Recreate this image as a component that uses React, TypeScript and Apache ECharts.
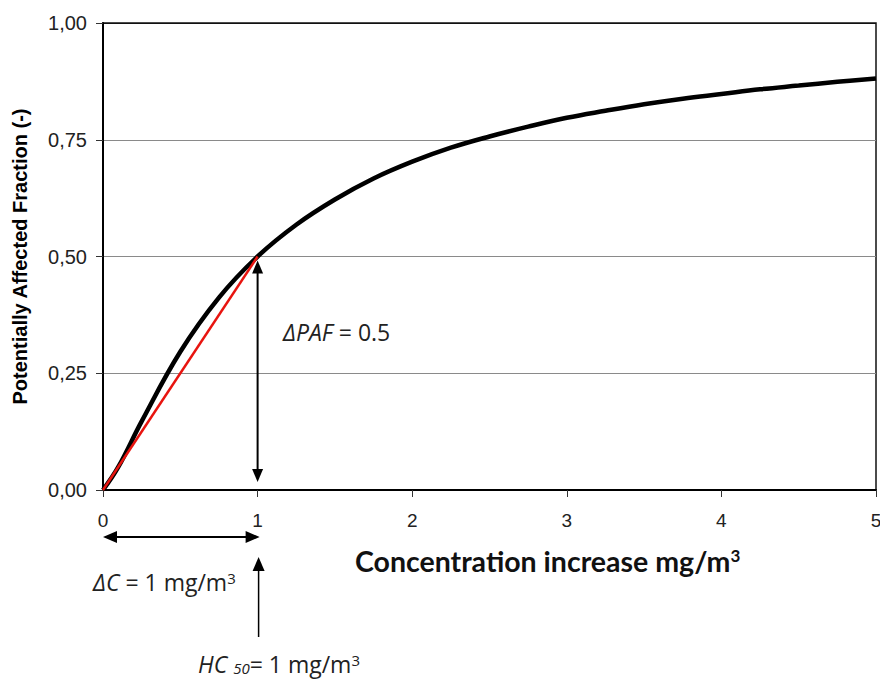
import React, { useEffect, useRef } from "react";
import * as echarts from "echarts";

const X_VALUES = [0, 0.1, 0.25, 0.5, 0.75, 1, 1.25, 1.5, 1.75, 2, 2.25, 2.5, 2.75, 3, 3.25, 3.5, 3.75, 4, 4.25, 4.5, 4.75, 5];
const PAF_VALUES = [0, 0.05, 0.147, 0.296, 0.412, 0.5, 0.568, 0.622, 0.667, 0.703, 0.733, 0.757, 0.778, 0.797, 0.812, 0.826, 0.838, 0.848, 0.858, 0.866, 0.874, 0.881];
const RED_X = [0, 1];
const RED_Y = [0, 0.5];
const Y_TICKS = ["0,00", "0,25", "0,50", "0,75", "1,00"];
const X_TITLE = "Concentration increase mg/m";
const Y_TITLE = "Potentially Affected Fraction (-)";

const CAL = "'Open Sans', Lato, sans-serif";
const TITLE_FONT = "Lato, 'Open Sans', sans-serif";
const ARIAL = "'Liberation Sans', Arial, sans-serif";

export default function App() {
  const ref = useRef<HTMLDivElement>(null);
  useEffect(() => {
    const chart = echarts.init(ref.current!, null, { renderer: "svg" });
    chart.setOption({
      animation: false,
      backgroundColor: "#fff",
      grid: {
        left: 103,
        right: 4,
        top: 23,
        bottom: 192,
        outerBoundsMode: "none",
        containLabel: false,
        show: true,
        borderColor: "#111",
        borderWidth: 1.5,
        backgroundColor: "transparent",
      },
      xAxis: {
        type: "value",
        min: 0,
        max: 5,
        interval: 1,
        axisLine: { lineStyle: { color: "#000", width: 2 } },
        axisTick: { show: true, length: 7, lineStyle: { color: "#333" } },
        splitLine: { show: false },
        axisLabel: { margin: 21, fontSize: 19, fontFamily: ARIAL, color: "#222" },
      },
      yAxis: {
        type: "value",
        min: 0,
        max: 1,
        interval: 0.25,
        name: Y_TITLE,
        nameLocation: "middle",
        nameGap: 73,
        nameTextStyle: { fontSize: 20, fontWeight: "bold", fontFamily: ARIAL, color: "#000" },
        axisLine: { show: true, lineStyle: { color: "#000", width: 2 } },
        axisTick: { show: true, length: 7, lineStyle: { color: "#333" } },
        splitLine: { show: true, lineStyle: { color: ["#000", "#8a8a8a", "#8a8a8a", "#8a8a8a", "#111"], width: 1.2 } },
        axisLabel: {
          margin: 16,
          fontSize: 20,
          fontFamily: ARIAL,
          color: "#222",
          formatter: (v: number) => Y_TICKS[Math.round(v / 0.25)] ?? "",
        },
      },
      series: [
        {
          type: "line",
          data: X_VALUES.map((x, i) => [x, PAF_VALUES[i]]),
          smooth: 0.4,
          showSymbol: false,
          lineStyle: { color: "#000", width: 4.5 },
          z: 2,
        },
        {
          type: "line",
          data: RED_X.map((x, i) => [x, RED_Y[i]]),
          showSymbol: false,
          lineStyle: { color: "#e8140f", width: 2.5 },
          z: 3,
        },
      ],
    });

    const px = (x: number, y: number) => chart.convertToPixel({ gridIndex: 0 }, [x, y]) as number[];
    const p0 = px(0, 0);
    const p1 = px(1, 0.5);
    const p10 = px(1, 0);
    const x0 = p0[0];
    const x1 = p1[0];
    const head = (tx: number, ty: number, dir: string, len = 13, hw = 5.5) => {
      let pts: number[][];
      if (dir === "left") pts = [[tx, ty], [tx + len, ty - hw], [tx + len, ty + hw]];
      else if (dir === "right") pts = [[tx, ty], [tx - len, ty - hw], [tx - len, ty + hw]];
      else if (dir === "up") pts = [[tx, ty], [tx - hw, ty + len], [tx + hw, ty + len]];
      else pts = [[tx, ty], [tx - hw, ty - len], [tx + hw, ty - len]];
      return { type: "polygon", shape: { points: pts }, style: { fill: "#000" }, z: 10 };
    };
    const line = (a: number, b: number, c: number, d: number, w = 2) => ({
      type: "line",
      shape: { x1: a, y1: b, x2: c, y2: d },
      style: { stroke: "#000", lineWidth: w },
      z: 10,
    });
    const hy = 537;
    const vTop = p1[1] + 4;
    const vBot = p10[1] - 8;
    const FS = 23;
    const SS = 15;
    chart.setOption({
      graphic: [
        line(x1, vTop + 10, x1, vBot - 10, 2),
        head(x1, vTop, "up", 13, 5.5),
        head(x1, vBot, "down", 13, 5.5),
        line(x0 + 10, hy, x1 - 10, hy, 2),
        head(x0, hy, "left", 14, 6),
        head(x1 + 2, hy, "right", 14, 6),
        line(x1 + 1, 568, x1 + 1, 637, 1.5),
        head(x1 + 1, 557, "up", 14, 6),
        {
          type: "text",
          x: 283,
          y: 332,
          z: 10,
          style: {
            text: "{i|ΔPAF} = 0.5",
            fontSize: FS,
            fontFamily: CAL,
            fill: "#222",
            verticalAlign: "middle",
            rich: { i: { fontStyle: "italic", fontSize: FS, fontFamily: CAL, fill: "#222" } },
          },
        },
        {
          type: "text",
          x: 93,
          y: 582,
          z: 10,
          style: {
            text: "{i|ΔC} = 1 mg/m{s|3}",
            fontSize: FS,
            fontFamily: CAL,
            fill: "#222",
            verticalAlign: "middle",
            rich: {
              i: { fontStyle: "italic", fontSize: FS, fontFamily: CAL, fill: "#222" },
              s: { fontSize: SS, fontFamily: CAL, fill: "#222", verticalAlign: "top", padding: [0, 0, 7, 0] },
            },
          },
        },
        {
          type: "text",
          x: 198,
          y: 664,
          z: 10,
          style: {
            text: "{i|HC }{b|50}= 1 mg/m{s|3}",
            fontSize: FS,
            fontFamily: CAL,
            fill: "#222",
            verticalAlign: "middle",
            rich: {
              i: { fontStyle: "italic", fontSize: FS, fontFamily: CAL, fill: "#222" },
              b: { fontStyle: "italic", fontSize: SS, fontFamily: CAL, fill: "#222", verticalAlign: "bottom", padding: [6, 0, 0, 0] },
              s: { fontSize: SS, fontFamily: CAL, fill: "#222", verticalAlign: "top", padding: [0, 0, 7, 0] },
            },
          },
        },
        {
          type: "text",
          x: 355,
          y: 561,
          z: 10,
          style: {
            text: X_TITLE + "{s|3}",
            fontSize: 28.5,
            fontWeight: "bold",
            fontFamily: TITLE_FONT,
            fill: "#111",
            verticalAlign: "middle",
            rich: {
              s: { fontSize: 17, fontWeight: "bold", fontFamily: TITLE_FONT, fill: "#111", verticalAlign: "top", padding: [0, 0, 9, 0] },
            },
          },
        },
      ],
    });
    return () => chart.dispose();
  }, []);
  return <div ref={ref} style={{ position: "absolute", left: 0, top: 0, width: 880, height: 682 }} />;
}
